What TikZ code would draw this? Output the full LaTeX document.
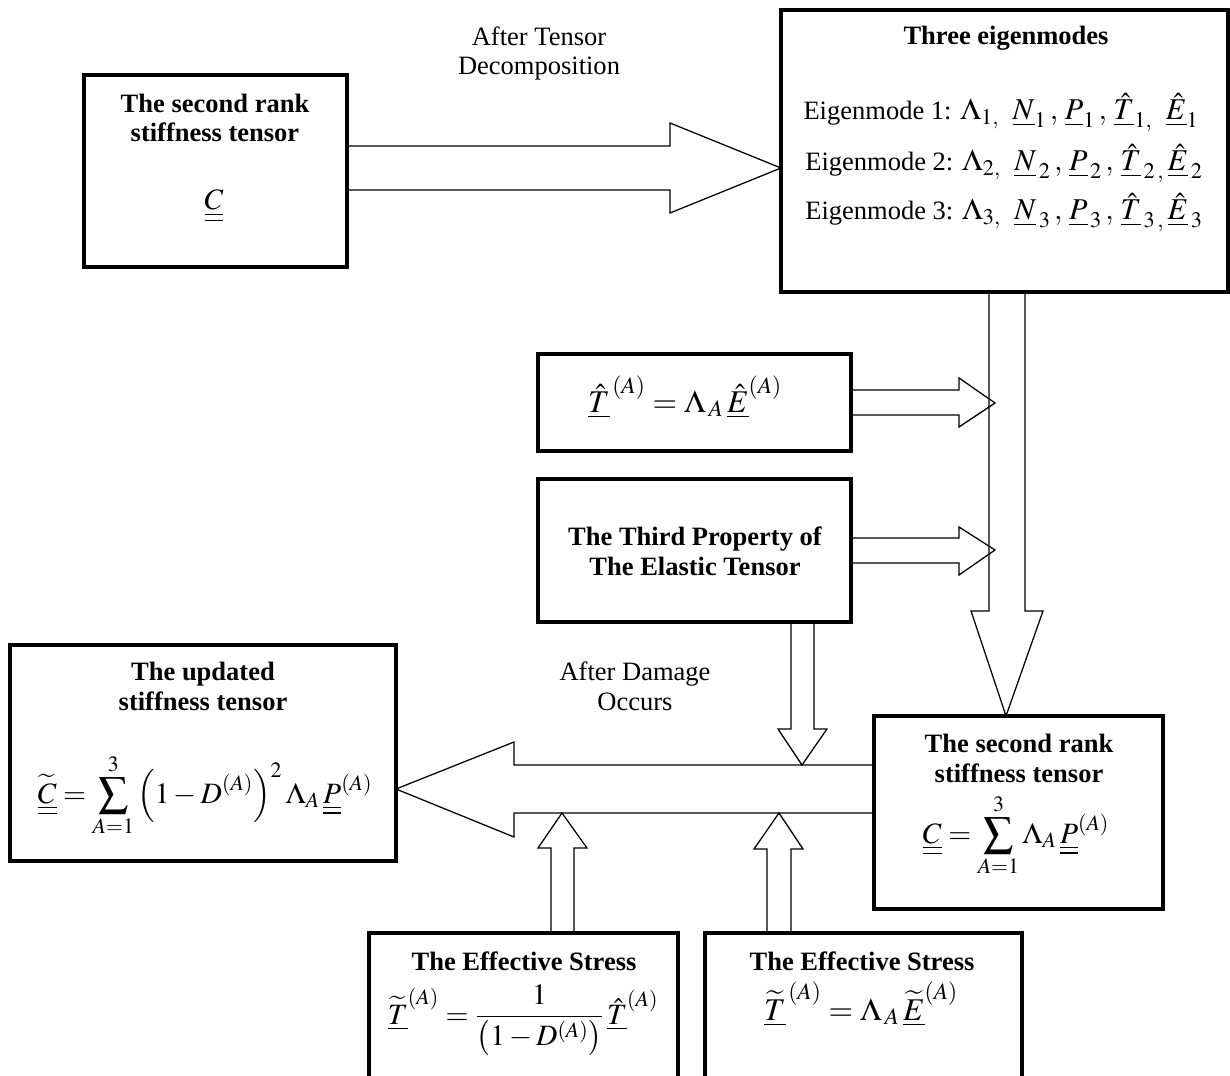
\documentclass[tikz,border=0pt]{standalone}
\usepackage{mathptmx}
\usepackage[no-math]{fontspec}
\setmainfont{Liberation Serif}
\usetikzlibrary{calc}

\tikzset{
  box/.style 2 args={draw, line width=2.2pt, inner sep=0pt, outer sep=0pt,
    minimum width=#1*0.025cm, minimum height=#2*0.025cm},
  barrow/.style={draw, line width=0.9pt, line join=miter},
  lbl/.style={anchor=base, inner sep=0pt, align=center},
  hd/.style={lbl, font=\fontsize{18.85}{21.2}\selectfont\bfseries},
  eq/.style={lbl, font=\fontsize{21}{25}\selectfont},
  bigeq/.style={lbl, font=\fontsize{22.5}{26}\selectfont},
}
\newcommand{\modemath}[1]{{\fontsize{21.5}{25}\selectfont$#1$}}

\begin{document}
\begin{tikzpicture}[x=0.025cm, y=-0.025cm, every node/.style={font=\fontsize{18.85}{21.2}\selectfont}]

\useasboundingbox (0,0) rectangle (1230,1076);
\clip (0,0) rectangle (1230,1076);

% boxes
\node[box={263}{192}] (secA) at (215.5,171) {};
\node[box={447}{282}] (eigen) at (1004.5,151) {};
\node[box={313}{97}] (relT) at (694.5,402.5) {};
\node[box={313}{143}] (third) at (694.5,550.5) {};
\node[box={386}{216}] (updC) at (203,753) {};
\node[box={289}{193}] (secF) at (1018.5,812.5) {};
\node[box={309}{167}] (effG) at (523.5,1016.5) {};
\node[box={317}{167}] (effH) at (863.5,1016.5) {};

% texts
\node[hd] (secAt) at (215,142) {The second rank\\stiffness tensor};
\node[eq] (secAe) at (214,210) {$\underline{\underline{C}}$};

\node[hd] (eigent) at (1006,45) {Three eigenmodes};
\node[lbl] (mode1) at (1001,120) {Eigenmode 1: \modemath{\Lambda_{1,}\;\;\underline{N}_{1}\,,\,\underline{P}_{1}\,,\,\underline{\hat{T}}_{1,}\;\;\underline{\hat{E}}_{1}}};
\node[lbl] (mode2) at (1004,171) {Eigenmode 2: \modemath{\Lambda_{2,}\;\;\underline{N}_{\,2}\,,\,\underline{P}_{\,2}\,,\,\underline{\hat{T}}_{\,2\,,}\,\underline{\hat{E}}_{\,2}}};
\node[lbl] (mode3) at (1004,220) {Eigenmode 3: \modemath{\Lambda_{3,}\;\;\underline{N}_{\,3}\,,\,\underline{P}_{\,3}\,,\,\underline{\hat{T}}_{\,3\,,}\,\underline{\hat{E}}_{\,3}}};

\node[bigeq] (relTe) at (685,412) {$\underline{\hat{T}}^{\,(A)} = \Lambda_{\,A}\,\underline{\hat{E}}^{(A)}$};
\node[hd] (thirdt) at (695,575) {The Third Property of\\The Elastic Tensor};

\node[hd] (updCt) at (203,710) {The updated\\stiffness tensor};
\node[eq] (updCe) at (205,803) {$\displaystyle \widetilde{\underline{\underline{C}}} = \sum_{A=1}^{3} \left(1-D^{(A)}\right)^{2} \Lambda_{A}\,\underline{\underline{P}}^{(A)}$};

\node[hd] (secFt) at (1019,782) {The second rank\\stiffness tensor};
\node[eq] (secFe) at (1016,843) {$\displaystyle \underline{\underline{C}} = \sum_{A=1}^{3} \Lambda_{A}\,\underline{\underline{P}}^{(A)}$};

\node[hd] (effGt) at (524,970) {The Effective Stress};
\node[eq] (effGe) at (523,1024) {$\displaystyle \widetilde{\underline{T}}^{(A)} = \frac{1}{\left(1-D^{(A)}\right)}\,\underline{\hat{T}}^{(A)}$};
\node[hd] (effHt) at (862,970) {The Effective Stress};
\node[bigeq] (effHe) at (861,1020) {$\widetilde{\underline{T}}^{\,(A)} = \Lambda_{\,A}\,\widetilde{\underline{E}}^{(A)}$};

\node[lbl] (tensorlbl) at (539,75) {After Tensor\\Decomposition};
\node[lbl] (damagelbl) at (635,710) {After Damage\\Occurs};

% free ends of the arrows
\coordinate (joinC) at (995,403);
\coordinate (joinD) at (995,550);
\coordinate (joinB) at (802,765);
\coordinate (joinG) at (562,813);
\coordinate (joinH) at (779,813);

% block arrows
\draw[barrow] (secA.east |- 0,146) -- (670,146) -- (670,123) -- (eigen.west |- 0,168) -- (670,213) -- (670,190) -- (secA.east |- 0,190);
\draw[barrow] (989,0 |- eigen.south) -- (989,611) -- (971,611) -- (1006,0 |- secF.north) -- (1043,611) -- (1025,611) -- (1025,0 |- eigen.south);
\draw[barrow] (relT.east |- 0,390) -- (959,390) -- (959,378) -- (joinC) -- (959,427) -- (959,415) -- (relT.east |- 0,415);
\draw[barrow] (third.east |- 0,538) -- (959,538) -- (959,527) -- (joinD) -- (959,575) -- (959,563) -- (third.east |- 0,563);
\draw[barrow] (791,0 |- third.south) -- (791,729) -- (778,729) -- (joinB) -- (827,729) -- (814,729) -- (814,0 |- third.south);
\draw[barrow] (secF.west |- 0,765) -- (514,765) -- (514,742) -- (updC.east |- 0,789) -- (514,837) -- (514,813) -- (secF.west |- 0,813);
\draw[barrow] (551,0 |- effG.north) -- (551,848) -- (538,848) -- (joinG) -- (587,848) -- (574,848) -- (574,0 |- effG.north);
\draw[barrow] (767,0 |- effH.north) -- (767,849) -- (754,849) -- (joinH) -- (803,849) -- (791,849) -- (791,0 |- effH.north);

\end{tikzpicture}
\end{document}
